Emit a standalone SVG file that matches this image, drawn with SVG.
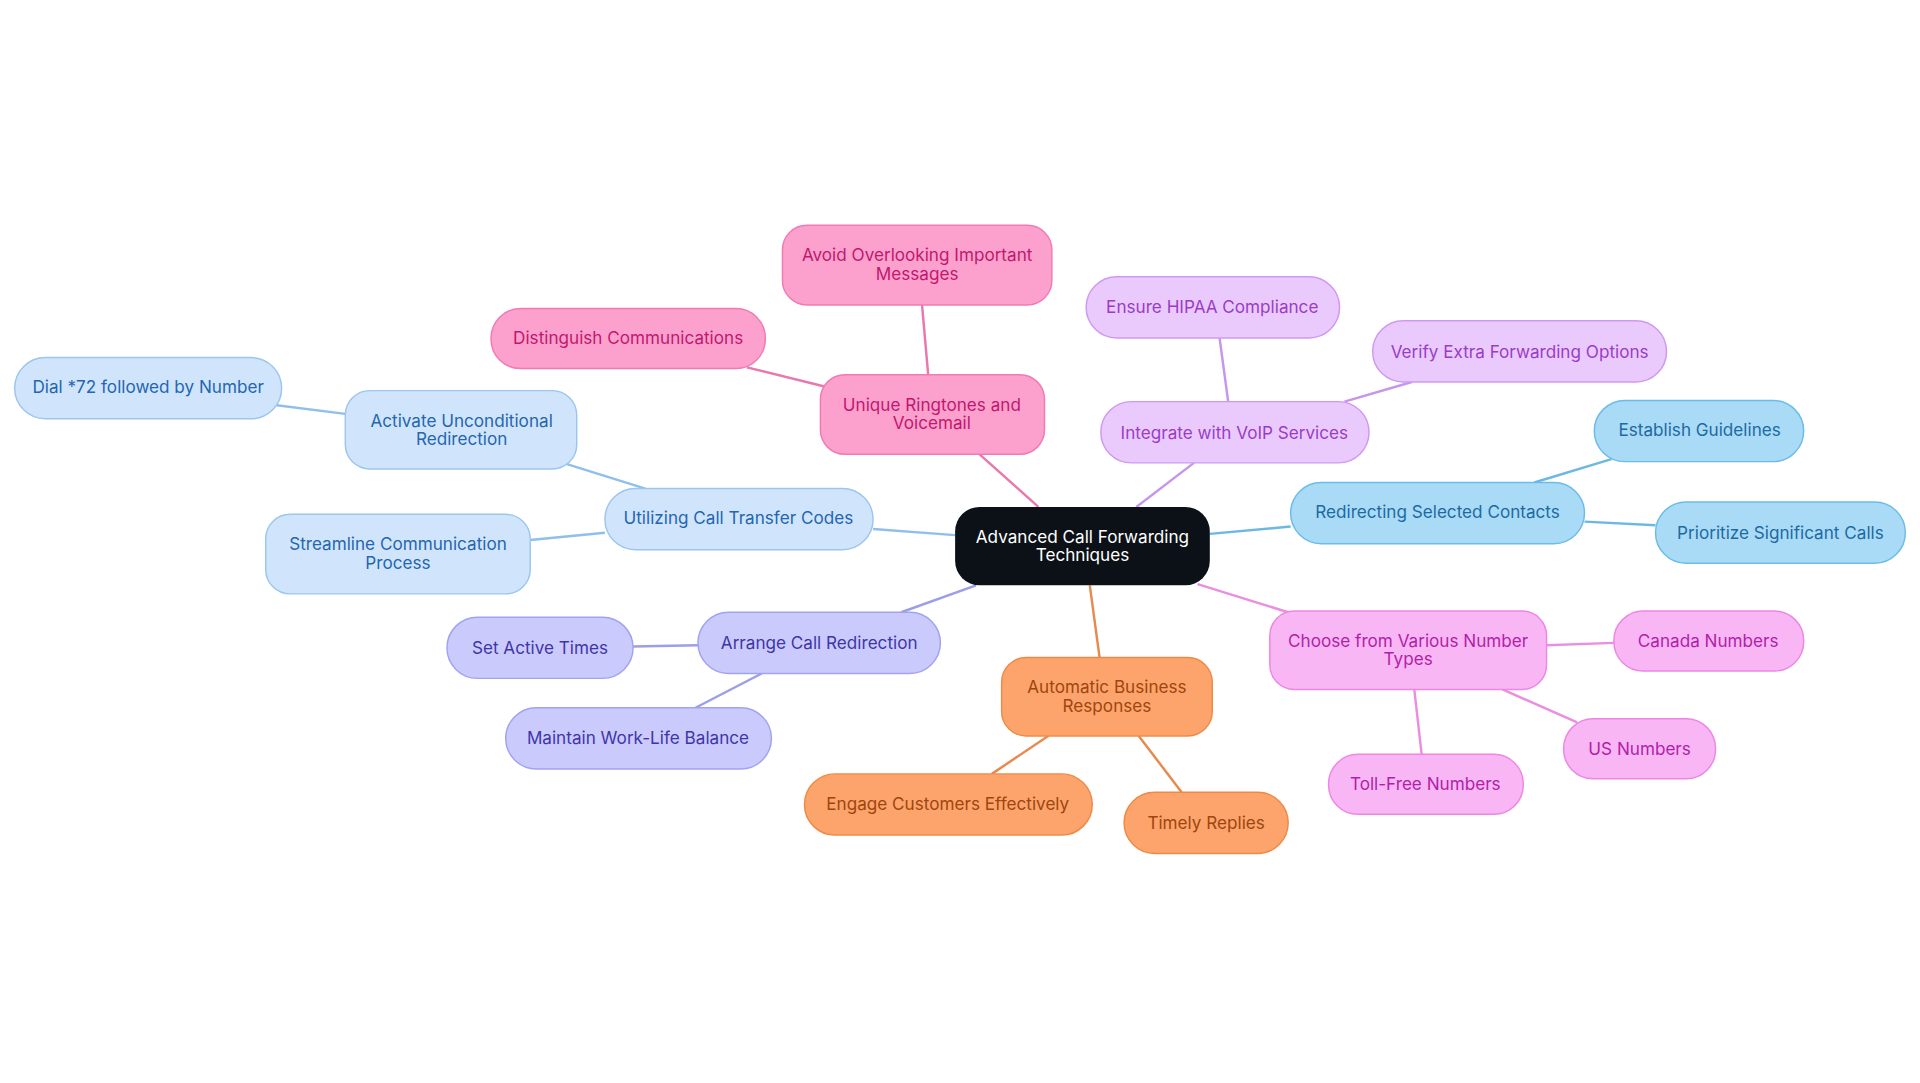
<svg xmlns="http://www.w3.org/2000/svg" width="1920" height="1083" viewBox="0 0 1920 1083">
<style>
text{font-family:Inter,"Liberation Sans",sans-serif;font-size:14px;text-anchor:middle;dominant-baseline:central}
.e line{stroke-width:2}
rect{stroke-width:1.2}
.pk rect{fill:#fca1cd;stroke:#f27ab4}.pk text{fill:#c3166f}
.pu rect{fill:#eacafc;stroke:#cf99f0}.pu text{fill:#9a3cc8}
.bl rect{fill:#a9dbf6;stroke:#6cbce8}.bl text{fill:#1d6aa3}
.mg rect{fill:#f9b6f4;stroke:#ee86e4}.mg text{fill:#b11fa8}
.or rect{fill:#fca46b;stroke:#ee8a48}.or text{fill:#9e4610}
.lv rect{fill:#cacbfc;stroke:#a1a3f1}.lv text{fill:#3f35a8}
.lb rect{fill:#d0e5fb;stroke:#9cc6ee}.lb text{fill:#2466b0}
</style>
<rect width="1920" height="1083" fill="#fff"/>
<g transform="scale(1.2245)">
<g class="e" id="connectors">
<line x1="848" y1="414" x2="800" y2="371" stroke="#e878ae"/>
<line x1="758" y1="306" x2="753" y2="249" stroke="#e878ae"/>
<line x1="675" y1="316" x2="610" y2="300" stroke="#e878ae"/>
<line x1="928" y1="414" x2="975" y2="378" stroke="#c796ea"/>
<line x1="1003" y1="328" x2="996" y2="276" stroke="#c796ea"/>
<line x1="1098" y1="328" x2="1153" y2="312" stroke="#c796ea"/>
<line x1="988" y1="436" x2="1054" y2="430" stroke="#6cb8e4"/>
<line x1="1253" y1="394" x2="1316" y2="375" stroke="#6cb8e4"/>
<line x1="1294" y1="426" x2="1352" y2="429" stroke="#6cb8e4"/>
<line x1="978" y1="477" x2="1052" y2="500" stroke="#ea8fe0"/>
<line x1="1263" y1="527" x2="1318" y2="525" stroke="#ea8fe0"/>
<line x1="1227" y1="563" x2="1288" y2="590" stroke="#ea8fe0"/>
<line x1="1155" y1="563" x2="1161" y2="616" stroke="#ea8fe0"/>
<line x1="890" y1="478" x2="898" y2="537" stroke="#e68a4e"/>
<line x1="856" y1="601" x2="810" y2="632" stroke="#e68a4e"/>
<line x1="930" y1="601" x2="965" y2="647" stroke="#e68a4e"/>
<line x1="797" y1="478" x2="736" y2="500" stroke="#9c9ee8"/>
<line x1="570" y1="527" x2="517" y2="528" stroke="#9c9ee8"/>
<line x1="622" y1="550" x2="568" y2="578" stroke="#9c9ee8"/>
<line x1="780" y1="437" x2="713" y2="432" stroke="#8fbfea"/>
<line x1="527" y1="399" x2="463" y2="379" stroke="#8fbfea"/>
<line x1="494" y1="435" x2="433" y2="441" stroke="#8fbfea"/>
<line x1="282" y1="338" x2="226" y2="331" stroke="#8fbfea"/>
</g>
<g id="center"><rect x="780" y="414" width="208" height="64" rx="20" fill="#0c1118"/><text x="884" y="438" fill="#fff">Advanced Call Forwarding</text><text x="884" y="453" fill="#fff">Techniques</text></g>
<g id="n1" class="pk"><rect x="670" y="306" width="183" height="65" rx="20"/><text x="761" y="330">Unique Ringtones and</text><text x="761" y="345">Voicemail</text></g>
<g id="n2" class="pk"><rect x="639" y="184" width="220" height="65" rx="20"/><text x="749" y="208">Avoid Overlooking Important</text><text x="749" y="223">Messages</text></g>
<g id="n3" class="pk"><rect x="401" y="252" width="224" height="49" rx="24"/><text x="513" y="276">Distinguish Communications</text></g>
<g id="n4" class="pu"><rect x="899" y="328" width="219" height="50" rx="25"/><text x="1008" y="353">Integrate with VoIP Services</text></g>
<g id="n5" class="pu"><rect x="887" y="226" width="207" height="50" rx="25"/><text x="990" y="250">Ensure HIPAA Compliance</text></g>
<g id="n6" class="pu"><rect x="1121" y="262" width="240" height="50" rx="25"/><text x="1241" y="287">Verify Extra Forwarding Options</text></g>
<g id="n7" class="bl"><rect x="1054" y="394" width="240" height="50" rx="25"/><text x="1174" y="418">Redirecting Selected Contacts</text></g>
<g id="n8" class="bl"><rect x="1302" y="327" width="171" height="50" rx="25"/><text x="1388" y="351">Establish Guidelines</text></g>
<g id="n9" class="bl"><rect x="1352" y="410" width="204" height="50" rx="25"/><text x="1454" y="435">Prioritize Significant Calls</text></g>
<g id="n10" class="mg"><rect x="1037" y="499" width="226" height="64" rx="20"/><text x="1150" y="523">Choose from Various Number</text><text x="1150" y="538">Types</text></g>
<g id="n11" class="mg"><rect x="1318" y="499" width="155" height="49" rx="24"/><text x="1395" y="523">Canada Numbers</text></g>
<g id="n12" class="mg"><rect x="1277" y="587" width="124" height="49" rx="24"/><text x="1339" y="611">US Numbers</text></g>
<g id="n13" class="mg"><rect x="1085" y="616" width="159" height="49" rx="24"/><text x="1164" y="640">Toll-Free Numbers</text></g>
<g id="n14" class="or"><rect x="818" y="537" width="172" height="64" rx="20"/><text x="904" y="561">Automatic Business</text><text x="904" y="576">Responses</text></g>
<g id="n15" class="or"><rect x="657" y="632" width="235" height="50" rx="25"/><text x="774" y="656">Engage Customers Effectively</text></g>
<g id="n16" class="or"><rect x="918" y="647" width="134" height="50" rx="25"/><text x="985" y="672">Timely Replies</text></g>
<g id="n17" class="lv"><rect x="570" y="500" width="198" height="50" rx="25"/><text x="669" y="525">Arrange Call Redirection</text></g>
<g id="n18" class="lv"><rect x="365" y="504" width="152" height="50" rx="25"/><text x="441" y="529">Set Active Times</text></g>
<g id="n19" class="lv"><rect x="413" y="578" width="217" height="50" rx="25"/><text x="521" y="602">Maintain Work-Life Balance</text></g>
<g id="n20" class="lb"><rect x="494" y="399" width="219" height="50" rx="25"/><text x="603" y="423">Utilizing Call Transfer Codes</text></g>
<g id="n21" class="lb"><rect x="282" y="319" width="189" height="64" rx="20"/><text x="377" y="343">Activate Unconditional</text><text x="377" y="358">Redirection</text></g>
<g id="n22" class="lb"><rect x="217" y="420" width="216" height="65" rx="20"/><text x="325" y="444">Streamline Communication</text><text x="325" y="459">Process</text></g>
<g id="n23" class="lb"><rect x="12" y="292" width="218" height="50" rx="25"/><text x="121" y="316">Dial *72 followed by Number</text></g>
</g>
</svg>
